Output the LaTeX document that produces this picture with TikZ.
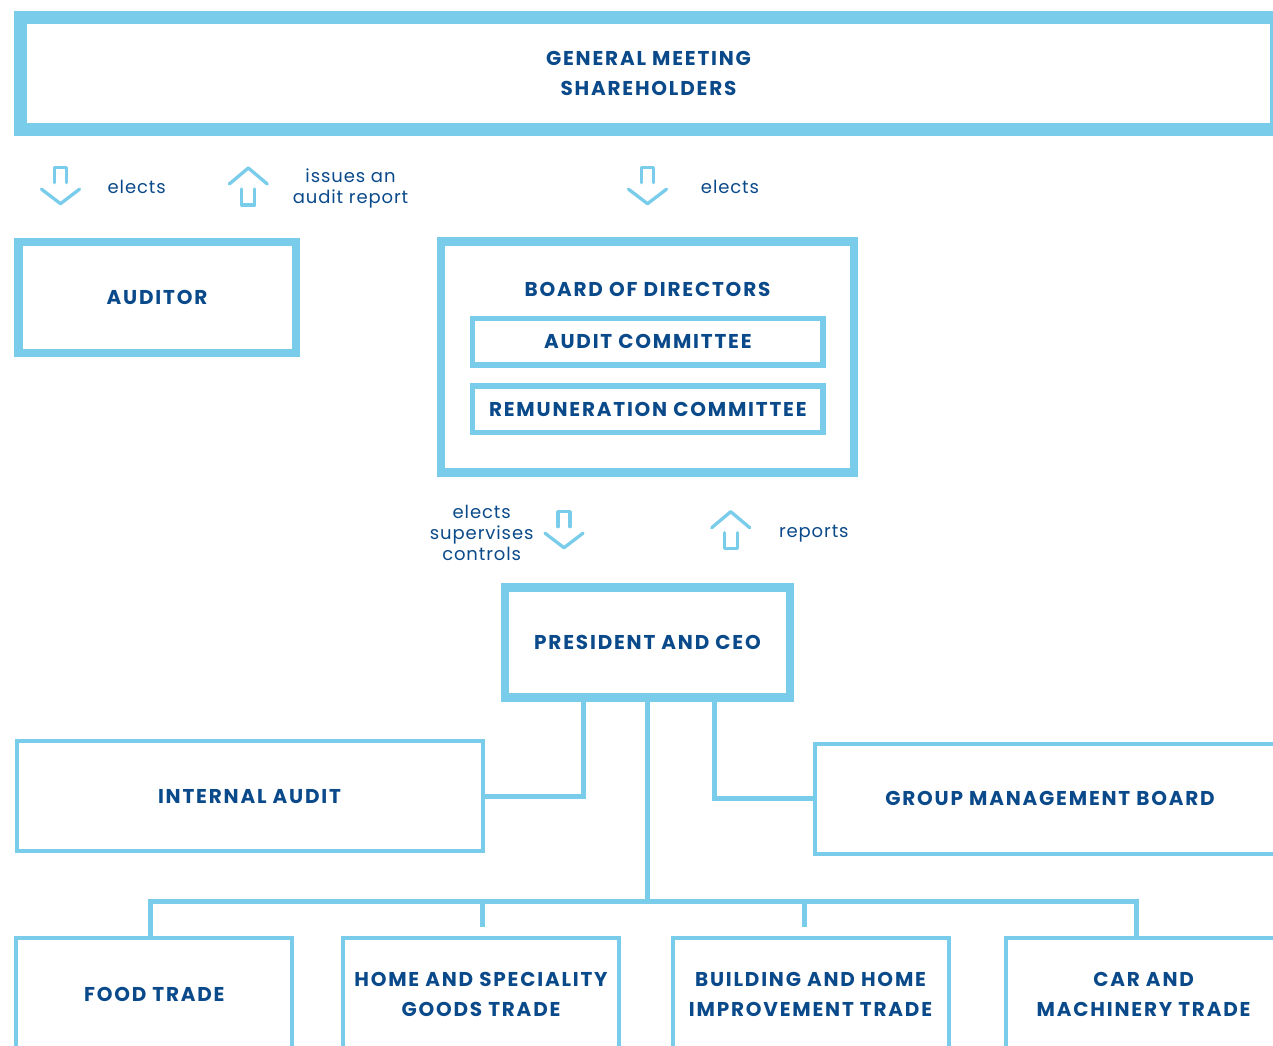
\documentclass[tikz,border=0pt]{standalone}
\usepackage{fontspec}
\setmainfont{Poppins}
\newfontfamily\capfont[LetterSpace=9]{Poppins}
\newfontfamily\lowfont[LetterSpace=5]{Poppins}
\definecolor{lblue}{HTML}{7ACCEB}
\definecolor{dblue}{HTML}{0B4A8A}

\begin{document}
\begin{tikzpicture}[x=1pt,y=-1pt,
	bx/.style={draw=lblue,inner sep=0,text=dblue,align=center,font=\capfont\fontsize{20}{30}\selectfont\bfseries},
	topbox/.style={bx,line width=13pt},
	bigbox/.style={bx,line width=8.5pt},
	combox/.style={bx,line width=5.3pt,minimum width=350.4,minimum height=46.4},
	smallbox/.style={bx,line width=4pt,minimum height=110},
	unitbox/.style={smallbox,minimum width=276,minimum height=112},
	lbl/.style={inner sep=0,text=dblue,align=center,font=\lowfont\fontsize{18}{21}\selectfont},
	conn/.style={draw=lblue,line width=5pt},
	icon/.style={draw=lblue,line width=3.3pt,line cap=round,line join=round},
	dnarr/.pic={\draw[icon] (-6,15) -- (-6,0) -- (6,0) -- (6,15);
		\draw[icon] (-19,21.5) -- (0,36) -- (19,21.5);},
	uparr/.pic={\draw[icon] (-19,16) -- (0,0) -- (19,16);
		\draw[icon] (-6.5,21) -- (-6.5,37) -- (6.5,37) -- (6.5,21);},
]
\useasboundingbox (0,0) rectangle (1273,1045);
\clip (0,0) rectangle (1273,1045);

\node[topbox,minimum width=1256,minimum height=112] (gm) at (648.5,73.5) {GENERAL MEETING\\SHAREHOLDERS};

\pic at (60.5,167.7) {dnarr};
\node[lbl,anchor=base] (el1) at (136.7,193.3) {elects};
\pic at (248.3,168) {uparr};
\node[lbl] (iss) at (350.5,188) {issues an\\audit report};
\pic at (647.5,167.7) {dnarr};
\node[lbl,anchor=base] (el2) at (730,193.3) {elects};

\node[bigbox,minimum width=277.5,minimum height=111] (aud) at (157,297.5) {AUDITOR};
\node[bigbox,minimum width=413,minimum height=231] (bod) at (647.5,357) {};
\node[bx,draw=none] (bodt) at (647.5,289.5) {BOARD OF DIRECTORS};
\node[combox] (ac) at (647.8,341.8) {AUDIT COMMITTEE};
\node[combox] (rc) at (647.8,409.2) {REMUNERATION COMMITTEE};

\node[lbl] (esc) at (481.7,532.5) {elects\\supervises\\controls};
\pic at (564,511.7) {dnarr};
\pic at (730.7,511.7) {uparr};
\node[lbl,anchor=base] (rep) at (813.8,537.7) {reports};

\node[bigbox,minimum width=285,minimum height=110.4] (ceo) at (647.5,642.5) {PRESIDENT AND CEO};

\node[smallbox,minimum width=466] (ia) at (249.5,796.3) {INTERNAL AUDIT};
\node[smallbox,minimum width=470] (gmb) at (1050,798.7) {GROUP MANAGEMENT BOARD};

\node[unitbox] (food) at (154.3,994) {FOOD TRADE};
\node[unitbox] (home) at (481,994) {HOME AND SPECIALITY\\GOODS TRADE};
\node[unitbox] (build) at (810.5,994) {BUILDING AND HOME\\IMPROVEMENT TRADE};
\node[unitbox] (car) at (1143.6,994) {CAR AND\\MACHINERY TRADE};

\coordinate (d1) at (150.5,901);
\coordinate (d2) at (482,901);
\coordinate (d3) at (804.7,901);
\coordinate (d4) at (1136.5,901);

\draw[conn] ([xshift=-64.5pt]ceo.south) |- (ia.east);
\draw[conn] ([xshift=67pt]ceo.south) |- (gmb.west);
\draw[conn] (ceo.south) -- (ceo.south |- d1);
\draw[conn] (d1 |- food.north) -- (d1) -- (d4) -- (d4 |- car.north);
\draw[conn,shorten >=9pt] (d2) -- (d2 |- home.north);
\draw[conn,shorten >=9pt] (d3) -- (d3 |- build.north);

\end{tikzpicture}
\end{document}
